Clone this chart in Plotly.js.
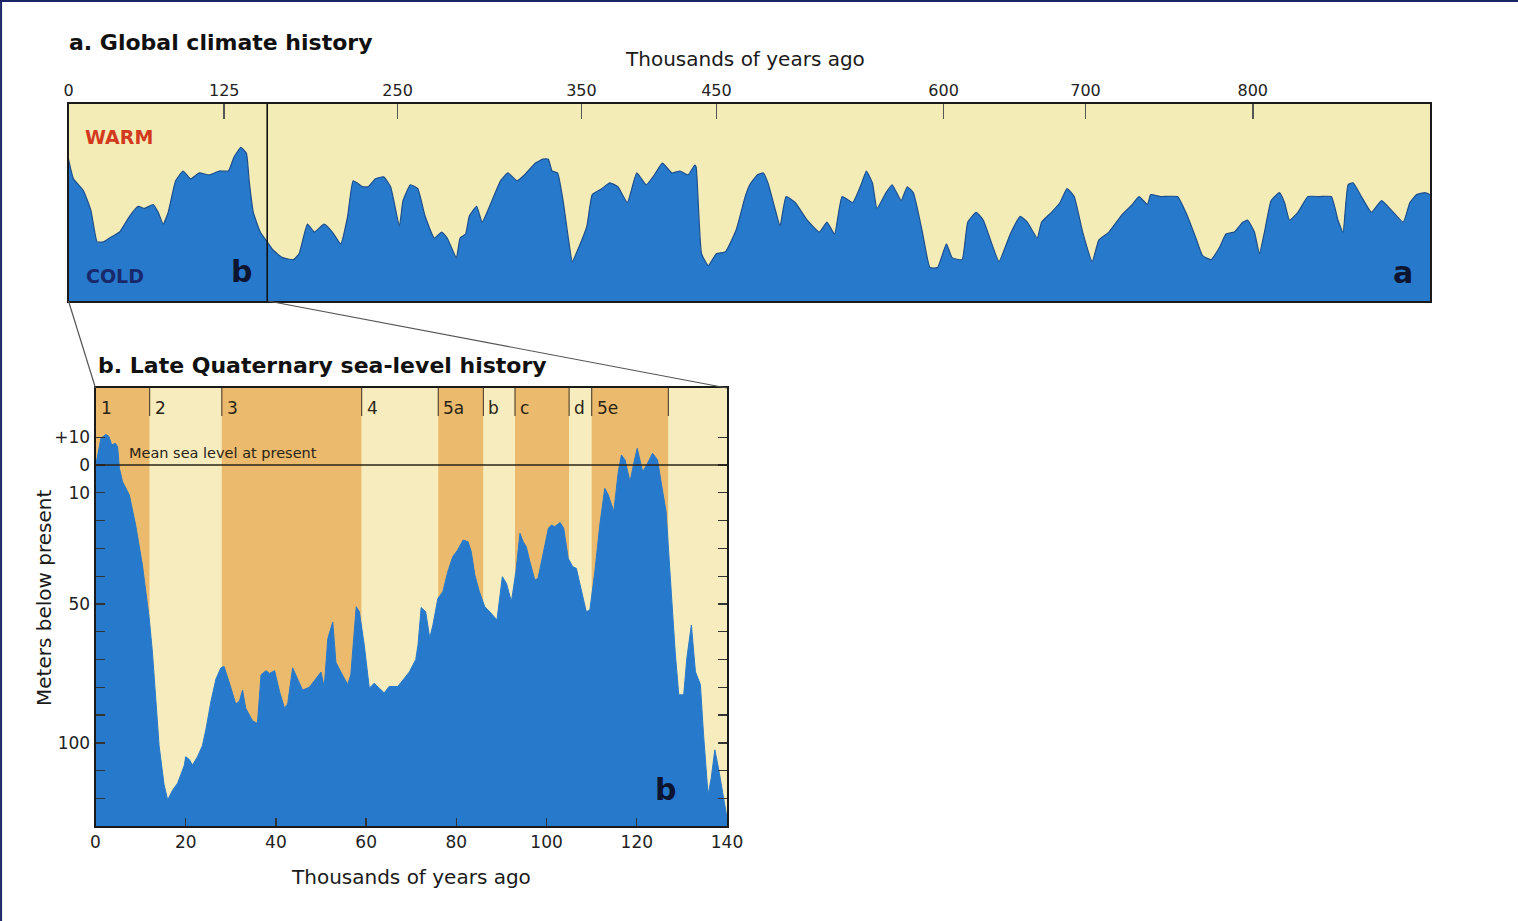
<!DOCTYPE html>
<html>
<head>
<meta charset="utf-8">
<script src="https://cdn.plot.ly/plotly-3.0.1.min.js"></script>
<style>html,body{margin:0;padding:0;background:#fff;}#chart{width:1518px;height:921px;}</style>
</head>
<body>
<div id="chart"></div>
<script>
// ---------- DATA ----------
// a. Global climate history (relative climate index, 0 = cold, 100 = warm) vs thousands of years ago
const topAge = [0,4,12,18,23,28,33,41,49,56,
  61,68,72,76,80,86,92,98,105,113,
  121,128,132,137,141,143,146,151,157,160,
  167,175,179,185,190,197,203,209,214,218,
  225,229,234,240,245,251,253,257,261,265,
  270,274,277,282,284,287,289,293,296,300,
  306,310,315,319,325,329,332,334,337,340,
  343,345,348,354,358,365,371,377,384,391,
  398,404,410,417,423,429,434,435,439,444,
  450,456,463,469,472,477,481,484,489,492,
  496,502,510,518,523,528,533,540,546,549,
  553,556,562,566,572,576,580,586,591,596,
  602,606,613,617,623,628,634,639,647,654,
  659,666,669,676,682,687,692,698,704,708,
  714,722,728,732,737,739,745,755,760,766,
  770,775,780,784,789,794,797,801,804,807,
  811,816,819,822,827,833,840,847,851,854,
  857,860,865,871,877,883,890,894,898,903,
  906];
const topIndex = [72,62,56,46,30,30,32,35,43,48,
  47,49,45,39,45,61,66,62,65,64,
  66,66,73,78,75,61,45,35,29,26,
  22,21,24,39,35,39,35,29,43,61,
  58,58,62,63,58,38,51,59,57,43,
  32,35,32,22,32,34,43,48,40,48,
  61,65,61,64,70,72,72,66,65,51,
  31,20,26,38,54,57,60,58,50,65,
  59,64,70,65,66,64,69,68,24,18,
  24,25,36,53,59,64,65,60,46,38,
  53,50,41,35,40,34,53,50,60,66,
  60,47,55,59,51,58,55,35,17,17,
  29,22,21,40,45,41,29,20,34,43,
  40,32,40,45,50,57,53,35,20,31,
  35,44,49,53,49,54,53,53,45,32,
  23,21,27,34,35,40,41,35,24,35,
  51,55,50,41,45,53,53,53,41,35,
  59,60,53,45,51,46,40,50,54,55,
  54];
const topTickAges = [0,125,250,350,450,600,700,800];
const topAgeMax = 906;
const topZoomBoxEnd = 156;   // right edge of the "b" box in panel a (ka)

// b. Late Quaternary sea level (m relative to present) vs thousands of years ago
const seaAge = [0,1.2,2.3,3.0,3.6,4.4,4.9,5.3,6.0,6.7,
  7.5,8.9,10.4,11.9,12.6,13.4,14.1,15.2,16.0,17.1,
  18.2,18.9,19.7,20.0,20.8,21.5,22.6,23.7,24.5,25.6,
  26.7,27.8,28.5,29.6,31.1,31.9,32.6,33.3,34.8,35.9,
  36.7,37.8,38.6,39.7,40.8,41.9,42.6,43.7,44.8,45.9,
  47.4,48.9,50.0,50.7,51.5,52.6,53.3,54.4,55.9,56.6,
  57.8,58.5,59.6,60.7,61.8,62.9,64.0,65.1,67.0,68.5,
  69.6,71.0,71.5,72.2,73.2,74.1,74.8,75.9,77.0,78.1,
  79.2,80.3,81.5,82.6,83.3,84.1,85.1,86.3,87.4,89.0,
  89.6,90.2,91.1,92.2,93.2,94.1,94.8,95.5,96.3,97.4,
  98.1,99.2,100.4,101.1,101.8,103.0,103.8,104.8,105.8,106.6,
  107.7,108.8,109.6,110.7,111.8,112.9,113.7,114.9,115.9,116.6,
  117.4,118.5,119.4,120.1,121.3,122.2,123.5,124.6,125.5,126.5,
  127.4,128.5,129.3,130.4,131.1,132.1,133.0,134.1,134.8,135.8,
  136.5,137.3,138.1,139.2,140];
const seaLevel = [-0.6,9.6,11,10.2,7.2,7.8,6.6,-1.2,-6,-8.4,
  -10.8,-21.6,-36,-55,-67,-85,-101,-115,-120.5,-117,
  -114.5,-111.5,-108,-105,-106,-108,-105,-101,-95,-85,
  -77,-73,-72.5,-78,-86,-85,-81,-87.5,-92,-93,
  -75.5,-74,-75,-74,-81.5,-87.5,-86,-73,-77,-81,
  -80,-77,-74.5,-80,-62.5,-56.5,-71,-74.5,-79,-75.5,
  -51,-52.8,-65,-80.3,-78.5,-80.3,-82,-79.7,-79.7,-76.7,
  -74.4,-70,-64.7,-51.3,-52.8,-62.3,-57.6,-48,-45.6,-38.4,
  -33,-30.6,-27,-27.6,-31.2,-39.6,-45.6,-51,-52.8,-55.8,
  -48,-40.2,-42.6,-49.2,-38.4,-24.6,-27.6,-29.4,-34.8,-41.4,
  -40.8,-31.8,-22.8,-21.6,-22.2,-20.7,-22.8,-33.6,-36.6,-37.2,
  -45.6,-52.8,-52.2,-38.4,-21.6,-8.4,-10.8,-16.8,-2.4,3.6,
  1.8,-6,1.2,6,-2.4,0,4.2,1.8,-7.2,-16.8,
  -39.6,-67,-82.7,-82.7,-69.5,-57.6,-74.4,-79,-97,-118.7,
  -112.7,-102.5,-109,-118.7,-127];
const stageBounds = [0,12,28,59,76,86,93,105,110,127,140];
const stageLabels = ['1','2','3','4','5a','b','c','d','5e',''];
const stageWarm = [true,false,true,false,true,false,true,false,true,false];
const seaTickVals = [10,0,-10,-20,-30,-40,-50,-60,-70,-80,-90,-100,-110,-120];
const seaTickText = ['+10','0','10','','','','50','','','','','100','',''];
const seaXTicks = [0,20,40,60,80,100,120,140];

// ---------- SCALE FOR PANEL a (non-uniform time axis of the original) ----------
const topSegmentWidths = [155.8,173.4,184,135,227.3,142,167.3]; // display length between successive ticks
const topTailRate = 167.3/100;                                  // display per ka beyond last tick
function topScale(ka){
  let pos = 0;
  for (let i = 0; i < topTickAges.length - 1; i++) {
    const a0 = topTickAges[i], a1 = topTickAges[i+1];
    if (ka <= a1) return pos + (ka - a0) / (a1 - a0) * topSegmentWidths[i];
    pos += topSegmentWidths[i];
  }
  return pos + (ka - topTickAges[topTickAges.length-1]) * topTailRate;
}

// ---------- STYLE ----------
const W = 1518, H = 921;
const FONT = 'DejaVu Sans, Verdana, sans-serif';
const BLUE = '#2779cc', EDGE = '#1c4f8e';
const CREAM_TOP = '#f4ecb7', CREAM = '#f6ecbd', ORANGE = '#ebba6c';
const px = v => v / W, py = v => 1 - v / H;
const SEA_MIN = -129.9, SEA_MAX = 27.7;

const traces = [
  {x: topAge.map(topScale), y: topIndex, xaxis: 'x', yaxis: 'y', type: 'scatter', mode: 'lines',
   fill: 'tozeroy', fillcolor: BLUE, line: {color: EDGE, width: 1.2, shape: 'spline', smoothing: 0.4},
   hoverinfo: 'skip', showlegend: false},
  {x: seaAge, y: seaAge.map(() => SEA_MIN), xaxis: 'x2', yaxis: 'y2', type: 'scatter', mode: 'lines',
   line: {width: 0}, hoverinfo: 'skip', showlegend: false},
  {x: seaAge, y: seaLevel, xaxis: 'x2', yaxis: 'y2', type: 'scatter', mode: 'lines',
   fill: 'tonexty', fillcolor: BLUE, line: {color: BLUE, width: 1},
   hoverinfo: 'skip', showlegend: false}
];

const shapes = [];
// stage bands
for (let i = 0; i < stageLabels.length; i++) {
  shapes.push({type: 'rect', xref: 'x2', yref: 'y2 domain', x0: stageBounds[i], x1: stageBounds[i+1],
    y0: 0, y1: 1, fillcolor: stageWarm[i] ? ORANGE : CREAM, line: {width: 0}, layer: 'below'});
}
// stage boundary marks at the top
for (let i = 1; i < stageBounds.length - 1; i++) {
  shapes.push({type: 'line', xref: 'x2', yref: 'y2 domain', x0: stageBounds[i], x1: stageBounds[i],
    y0: 0.936, y1: 1, line: {color: '#5a4a30', width: 1.2}});
}
// mean sea level at present
shapes.push({type: 'line', xref: 'x2 domain', yref: 'y2', x0: 0, x1: 1, y0: 0, y1: 0,
  line: {color: '#2a2418', width: 1.3}});
// "b" box divider in panel a
shapes.push({type: 'line', xref: 'x', yref: 'y domain', x0: topScale(topZoomBoxEnd), x1: topScale(topZoomBoxEnd),
  y0: 0, y1: 1, line: {color: '#111', width: 1.6}});
// zoom connector lines
shapes.push({type: 'line', xref: 'paper', yref: 'paper', x0: px(68.5), y0: py(301), x1: px(95.5), y1: py(388),
  line: {color: '#555', width: 1.2}});
shapes.push({type: 'line', xref: 'paper', yref: 'paper', x0: px(268), y0: py(301), x1: px(727), y1: py(388),
  line: {color: '#555', width: 1.2}});
// page frame (left & top)
shapes.push({type: 'line', xref: 'paper', yref: 'paper', x0: 0.0007, x1: 0.0007, y0: 0, y1: 1,
  line: {color: '#1b2466', width: 2}});
shapes.push({type: 'line', xref: 'paper', yref: 'paper', x0: 0, x1: 1, y0: 0.999, y1: 0.999,
  line: {color: '#1b2466', width: 2}});

const ann = [];
const A = (o) => ann.push(Object.assign({showarrow: false, font: {family: FONT, size: 20, color: '#1a1a1a'}}, o));
A({text: 'a. Global climate history', xref: 'paper', yref: 'paper', x: px(67), y: py(42),
   xanchor: 'left', yanchor: 'middle', font: {family: FONT, size: 22, color: '#111', weight: 'bold'}});
A({text: 'Thousands of years ago', xref: 'paper', yref: 'paper', x: px(745), y: py(59), xanchor: 'center', yanchor: 'middle'});
A({text: 'WARM', xref: 'paper', yref: 'paper', x: px(83), y: py(137), xanchor: 'left', yanchor: 'middle',
   font: {family: FONT, size: 19, color: '#d3391d', weight: 'bold'}});
A({text: 'COLD', xref: 'paper', yref: 'paper', x: px(84), y: py(276), xanchor: 'left', yanchor: 'middle',
   font: {family: FONT, size: 19, color: '#18286b', weight: 'bold'}});
A({text: 'b', xref: 'paper', yref: 'paper', x: px(241), y: py(271), xanchor: 'center', yanchor: 'middle',
   font: {family: FONT, size: 30, color: '#0d1430', weight: 'bold'}});
A({text: 'a', xref: 'paper', yref: 'paper', x: px(1403), y: py(272), xanchor: 'center', yanchor: 'middle',
   font: {family: FONT, size: 30, color: '#0d1430', weight: 'bold'}});
A({text: 'b. Late Quaternary sea-level history', xref: 'paper', yref: 'paper', x: px(96), y: py(366),
   xanchor: 'left', yanchor: 'middle', font: {family: FONT, size: 22, color: '#111', weight: 'bold'}});
A({text: 'Meters below present', xref: 'paper', yref: 'paper', x: px(44), y: py(598), textangle: -90,
   xanchor: 'center', yanchor: 'middle'});
A({text: 'Thousands of years ago', xref: 'paper', yref: 'paper', x: px(411), y: py(877), xanchor: 'center', yanchor: 'middle'});
A({text: 'b', xref: 'paper', yref: 'paper', x: px(665), y: py(789), xanchor: 'center', yanchor: 'middle',
   font: {family: FONT, size: 30, color: '#0d1430', weight: 'bold'}});
A({text: 'Mean sea level at present', xref: 'x2', yref: 'y2', x: 7, y: 4.2, xanchor: 'left', yanchor: 'middle',
   font: {family: FONT, size: 14.5, color: '#2a2418'}});
for (let i = 0; i < stageLabels.length; i++) {
  if (!stageLabels[i]) continue;
  A({text: stageLabels[i], xref: 'x2', yref: 'y2 domain', x: stageBounds[i], y: 0.954, xanchor: 'left', yanchor: 'middle',
     xshift: i === 0 ? 3 : 3, font: {family: FONT, size: 17, color: '#2a2418'}});
}

const layout = {
  width: W, height: H, margin: {l: 0, r: 0, t: 0, b: 0},
  paper_bgcolor: '#ffffff', plot_bgcolor: CREAM_TOP,
  font: {family: FONT, color: '#1a1a1a'},
  showlegend: false,
  xaxis: {domain: [px(68.5), px(1430)], anchor: 'y', side: 'top', range: [0, topScale(topAgeMax)],
    tickvals: topTickAges.map(topScale), ticktext: topTickAges.map(String),
    ticks: 'inside', ticklen: 15, tickwidth: 1.5, tickcolor: '#555',
    tickfont: {family: FONT, size: 16, color: '#222'},
    showgrid: false, zeroline: false, showline: true, mirror: true, linecolor: '#1a1a1a', linewidth: 2},
  yaxis: {domain: [py(301), py(104)], anchor: 'x', range: [0, 100], showticklabels: false, ticks: '',
    showgrid: false, zeroline: false, showline: true, mirror: true, linecolor: '#1a1a1a', linewidth: 2},
  xaxis2: {domain: [px(95.5), px(727)], anchor: 'y2', range: [0, 140], tickvals: seaXTicks,
    ticks: 'inside', ticklen: 8, tickwidth: 1.3, tickcolor: '#333',
    tickfont: {family: FONT, size: 17, color: '#222'},
    showgrid: false, zeroline: false, showline: true, mirror: true, linecolor: '#1a1a1a', linewidth: 2},
  yaxis2: {domain: [py(826), py(388)], anchor: 'x2', range: [SEA_MIN, SEA_MAX],
    tickvals: seaTickVals, ticktext: seaTickText,
    ticks: 'inside', ticklen: 9, tickwidth: 1.3, tickcolor: '#333',
    tickfont: {family: FONT, size: 17, color: '#222'},
    showgrid: false, zeroline: false, showline: true, mirror: 'ticks', linecolor: '#1a1a1a', linewidth: 2},
  shapes: shapes,
  annotations: ann
};

Plotly.newPlot('chart', traces, layout, {displayModeBar: false, staticPlot: true});
</script>
</body>
</html>
